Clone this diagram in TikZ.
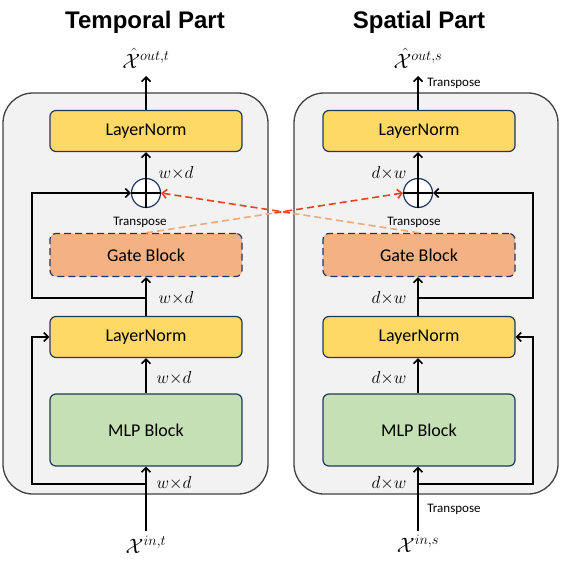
\documentclass[tikz,border=0pt]{standalone}
\usepackage{fontspec}
\setmainfont{Carlito}
\newfontfamily\titlefont{Liberation Sans}
\usetikzlibrary{arrows.meta,calc}
\definecolor{navy}{HTML}{1F3864}
\definecolor{lnfill}{HTML}{FFD966}
\definecolor{gatefill}{HTML}{F4B183}
\definecolor{mlpfill}{HTML}{C5E0B4}
\definecolor{panelfill}{HTML}{F2F2F2}
\definecolor{panelline}{HTML}{404040}
\definecolor{redarr}{HTML}{E8431E}
\definecolor{lightor}{HTML}{F0A878}
\begin{document}
\begin{tikzpicture}[x=1pt,y=-1pt,
  panel/.style={draw=panelline, fill=panelfill, line width=1.3pt, rounded corners=30pt},
  blk/.style={draw=navy, line width=1.2pt, rounded corners=6pt, minimum width=192pt, inner sep=0pt, font=\fontsize{18}{18}\selectfont},
  ln/.style={blk, fill=lnfill, minimum height=41pt},
  gate/.style={blk, fill=gatefill, minimum height=43pt, dash pattern=on 7pt off 4pt},
  mlp/.style={blk, fill=mlpfill, minimum height=72pt},
  circ/.style={circle, draw=navy, fill=white, line width=1.2pt, minimum size=29pt, inner sep=0pt},
  arr/.style={line width=1.6pt, -{Straight Barb[length=4.5pt,width=9pt]}},
  skip/.style={line width=1.6pt, -{Straight Barb[length=4.5pt,width=9pt]}},
  xdash/.style={line width=1.6pt, dash pattern=on 7pt off 4pt},
  xarr/.style={xdash, -{Straight Barb[length=4.5pt,width=9pt]}},
  dim/.style={font=\fontsize{16}{16}\selectfont, inner sep=0pt},
  tp/.style={font=\fontsize{13}{13}\selectfont, inner sep=0pt},
  io/.style={font=\fontsize{20}{20}\selectfont, inner sep=1pt},
  ttl/.style={font=\titlefont\bfseries\fontsize{24}{24}\selectfont}
]
\useasboundingbox (0,0) rectangle (562,562);
% panels
\draw[panel] (3,93) rectangle (268,494);
\draw[panel] (294,93) rectangle (558,494);
% titles
\node[ttl] (tL) at (145,22) {Temporal Part};
\node[ttl] (tR) at (419,22) {Spatial Part};
% ---------- left ----------
\node[ln] (lnTopL) at (146,131) {LayerNorm};
\node[circ] (plusL) at (146,193) {};
\draw[line width=1.2pt] (plusL.north) -- (plusL.south) (plusL.west) -- (plusL.east);
\node[gate] (gateL) at (146,255) {Gate Block};
\node[ln] (lnBotL) at (146,337) {LayerNorm};
\node[mlp] (mlpL) at (146,430) {MLP Block};
\node[io, anchor=base] (inL) at (146,553) {$\mathcal{X}^{in,t}$};
\node[io, anchor=base] (outL) at (146,68) {$\hat{\mathcal{X}}^{out,t}$};
\coordinate (a1L) at (146,298);
\coordinate (b1L) at (32,298);
\coordinate (c1L) at (32,193);
\coordinate (a2L) at (146,484);
\coordinate (b2L) at (32,484);
\coordinate (c2L) at (32,337);
\coordinate (inLtop) at (146,531);
\coordinate (outLbot) at (146,76);
\draw[arr] (inLtop) -- (mlpL.south);
\draw[arr] (mlpL.north) -- (lnBotL.south);
\draw[arr] (lnBotL.north) -- (gateL.south);
\draw[arr] (plusL.north) -- (lnTopL.south);
\draw[arr] (lnTopL.north) -- (outLbot);
\draw[skip] (a1L) -- (b1L) -- (c1L) -- (plusL.west);
\draw[skip] (a2L) -- (b2L) -- (c2L) -- (lnBotL.west);
\node[dim] (dL1) at (176,173) {$w{\times}d$};
\node[dim] (dL2) at (176,298) {$w{\times}d$};
\node[dim] (dL3) at (174,378) {$w{\times}d$};
\node[dim] (dL4) at (174,483) {$w{\times}d$};
\node[tp] (tpL) at (140,222) {Transpose};
% ---------- right ----------
\node[ln] (lnTopR) at (419,131) {LayerNorm};
\node[circ] (plusR) at (418,193) {};
\draw[line width=1.2pt] (plusR.north) -- (plusR.south) (plusR.west) -- (plusR.east);
\node[gate] (gateR) at (419,255) {Gate Block};
\node[ln] (lnBotR) at (419,337) {LayerNorm};
\node[mlp] (mlpR) at (419,430) {MLP Block};
\node[io, anchor=base] (inR) at (418,552) {$\mathcal{X}^{in,s}$};
\node[io, anchor=base] (outR) at (418,68) {$\hat{\mathcal{X}}^{out,s}$};
\coordinate (a1R) at (418,298);
\coordinate (b1R) at (533,298);
\coordinate (c1R) at (533,193);
\coordinate (a2R) at (418,484);
\coordinate (b2R) at (533,484);
\coordinate (c2R) at (533,337);
\coordinate (inRtop) at (418,531);
\coordinate (outRbot) at (418,76);
\draw[arr] (inRtop) -- (mlpR.south -| inRtop);
\draw[arr] (mlpR.north -| inRtop) -- (lnBotR.south -| inRtop);
\draw[arr] (lnBotR.north -| inRtop) -- (gateR.south -| inRtop);
\draw[arr] (plusR.north) -- (lnTopR.south -| plusR);
\draw[arr] (lnTopR.north -| plusR) -- (outRbot);
\draw[skip] (a1R) -- (b1R) -- (c1R) -- (plusR.east);
\draw[skip] (a2R) -- (b2R) -- (c2R) -- (lnBotR.east);
\node[dim] (dR1) at (389,173) {$d{\times}w$};
\node[dim] (dR2) at (389,298) {$d{\times}w$};
\node[dim] (dR3) at (389,378) {$d{\times}w$};
\node[dim] (dR4) at (389,483) {$d{\times}w$};
\node[tp] (tpR) at (414,222) {Transpose};
\node[tp] (tpOut) at (454,83) {Transpose};
\node[tp] (tpIn) at (454,509) {Transpose};
% ---------- cross connections ----------
\coordinate (mA) at ($(gateL.north)!0.5!(plusR.west)$);
\coordinate (mB) at ($(gateR.north)!0.5!(plusL.east)$);
\draw[xdash, lightor] (gateL.north) -- (mA);
\draw[xdash, lightor] (gateR.north) -- (mB);
\draw[xarr, redarr] (mA) -- (plusR.west);
\draw[xarr, redarr] (mB) -- (plusL.east);
\end{tikzpicture}
\end{document}
